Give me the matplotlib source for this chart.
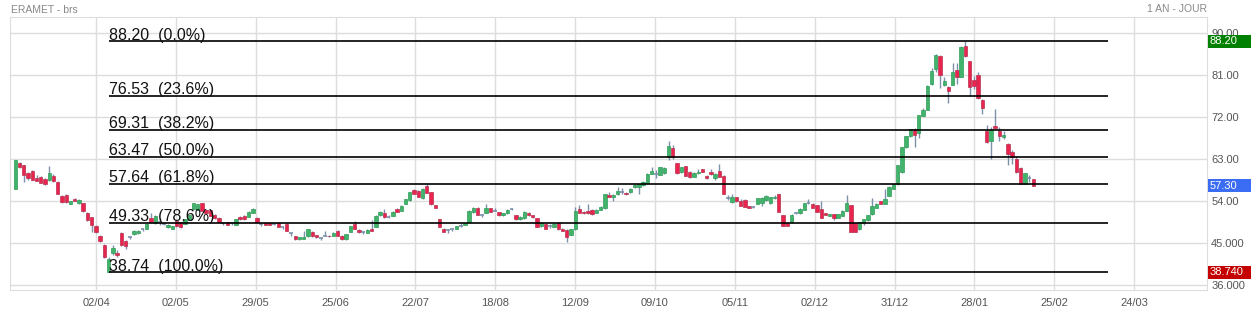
import matplotlib
matplotlib.use('Agg')
import matplotlib.pyplot as plt
import matplotlib.transforms as mtransforms
from matplotlib.patches import Rectangle

plt.rcParams['font.family'] = ['Liberation Sans', 'DejaVu Sans']

# daily candles (one row = 10 sessions)
opens = [
    56.5, 62.1, 61.7, 60.1, 60.5, 58.9, 59.2, 58.7, 58.4, 59.4,
    58.1, 55.1, 55.3, 53.4, 54.4, 53.5, 53.5, 51.5, 50.5, 48.6,
    46.5, 44.6, 38.74, 42.9, 42.8, 47.2, 45.5, 46.2, 46.9, 47.2,
    47.9, 48.1, 50.3, 49.2, 49.6, 49.1, 48.4, 48.1, 49.8, 49.4,
    49.1, 50.0, 52.2, 52.1, 53.5, 52.1, 52.1, 51.0, 50.4, 49.2,
    49.4, 49.2, 48.9, 50.6, 50.8, 50.6, 51.5, 50.4, 49.1, 49.2,
    49.2, 49.0, 49.2, 48.5, 49.1, 47.1, 46.4, 45.8, 45.9, 46.4,
    47.4, 46.7, 46.0, 46.5, 46.6, 46.6, 47.6, 46.6, 45.8, 47.4,
    49.1, 47.8, 47.3, 47.2, 47.9, 48.5, 50.9, 51.4, 50.6, 50.8,
    52.3, 51.9, 53.4, 54.2, 56.4, 56.1, 54.6, 57.3, 55.9, 53.1,
    50.1, 48.1, 47.8, 48.0, 48.0, 48.6, 48.9, 49.6, 51.6, 52.6,
    51.1, 51.5, 52.4, 51.9, 51.6, 50.9, 51.4, 52.2, 51.0, 50.1,
    50.3, 51.5, 51.0, 50.3, 48.6, 49.1, 48.6, 48.5, 49.2, 48.1,
    47.8, 46.8, 47.9, 52.3, 51.7, 51.9, 52.1, 51.5, 52.1, 52.4,
    55.3, 54.9, 55.4, 55.9, 55.8, 55.9, 56.9, 57.1, 57.4, 57.9,
    59.8, 59.7, 59.6, 59.9, 63.4, 65.3, 62.1, 60.3, 61.4, 60.3,
    59.2, 59.9, 60.8, 59.4, 60.3, 59.0, 60.5, 59.4, 54.6, 53.7,
    54.8, 54.1, 54.2, 52.9, 52.8, 53.4, 53.5, 54.2, 53.5, 54.6,
    55.5, 51.0, 49.2, 49.4, 51.4, 51.4, 52.1, 53.5, 53.4, 53.1,
    52.3, 51.4, 50.8, 51.2, 50.4, 50.8, 51.9, 53.1, 49.2, 47.9,
    49.2, 49.9, 51.2, 52.6, 53.9, 53.4, 55.1, 56.6, 57.6, 60.2,
    65.5, 67.9, 69.4, 68.6, 72.3, 73.5, 79.0, 82.2, 85.1, 78.9,
    78.5, 78.9, 82.1, 80.6, 87.2, 84.0, 79.9, 80.9, 75.6, 69.0,
    66.9, 70.1, 69.0, 67.8, 66.2, 64.6, 63.0, 61.0, 57.6, 59.0, 58.7,
]
highs = [
    62.8, 62.4, 61.8, 60.3, 60.7, 59.6, 59.4, 58.9, 61.6, 59.8,
    58.3, 55.3, 55.5, 54.0, 54.6, 54.4, 53.6, 51.6, 50.6, 48.8,
    46.7, 44.8, 41.9, 44.6, 43.6, 47.4, 45.7, 46.5, 47.7, 47.8,
    48.2, 49.2, 51.4, 50.9, 50.3, 49.4, 49.0, 48.7, 50.0, 49.6,
    50.2, 51.1, 53.6, 53.4, 53.6, 52.3, 52.2, 51.2, 50.5, 49.4,
    49.6, 49.4, 50.2, 50.8, 50.9, 51.8, 52.5, 50.6, 49.3, 49.3,
    49.3, 49.2, 49.3, 48.6, 49.2, 47.2, 46.5, 46.3, 47.6, 47.9,
    47.6, 46.8, 46.2, 47.6, 46.7, 47.3, 47.8, 46.7, 47.0, 48.7,
    49.8, 48.1, 47.5, 47.9, 49.9, 50.9, 51.8, 52.2, 50.9, 51.8,
    52.5, 53.1, 54.5, 56.0, 56.6, 56.3, 56.7, 57.7, 56.0, 53.2,
    50.2, 48.2, 48.0, 48.2, 48.7, 49.3, 49.3, 52.0, 52.7, 52.7,
    51.3, 53.3, 52.6, 52.4, 51.7, 51.5, 52.2, 52.5, 51.1, 50.7,
    51.8, 51.6, 51.1, 50.4, 49.3, 49.2, 49.0, 49.2, 49.4, 48.2,
    48.0, 48.0, 52.8, 53.2, 51.8, 53.3, 52.2, 52.2, 52.9, 55.5,
    55.9, 55.4, 56.9, 56.7, 55.9, 56.7, 57.6, 57.7, 58.2, 59.9,
    61.2, 60.6, 61.3, 61.2, 66.9, 66.0, 62.2, 61.3, 61.5, 60.4,
    60.2, 60.8, 60.9, 59.6, 60.8, 60.1, 61.9, 59.5, 55.2, 55.4,
    54.9, 54.5, 54.4, 53.0, 53.0, 54.7, 54.8, 55.2, 54.9, 55.3,
    55.6, 51.1, 49.3, 51.3, 51.6, 52.4, 53.6, 54.4, 53.5, 53.2,
    54.0, 51.5, 51.3, 51.3, 51.3, 52.0, 55.3, 53.2, 49.3, 49.5,
    50.2, 51.1, 54.6, 53.5, 54.0, 56.6, 57.2, 57.7, 61.8, 65.6,
    68.0, 69.5, 69.6, 72.5, 73.9, 78.9, 82.5, 85.4, 85.3, 80.6,
    78.7, 83.6, 83.5, 87.2, 88.2, 84.1, 80.8, 81.6, 75.8, 70.3,
    69.8, 73.7, 69.8, 69.0, 66.5, 64.9, 63.6, 61.2, 60.0, 59.5, 58.8,
]
lows = [
    56.5, 61.0, 58.1, 58.5, 58.4, 58.2, 57.8, 57.4, 58.3, 58.1,
    55.4, 53.5, 53.6, 53.3, 54.0, 53.4, 51.7, 49.8, 47.4, 47.2,
    45.3, 41.7, 38.74, 42.4, 42.0, 44.4, 43.7, 45.9, 46.8, 47.0,
    47.6, 48.0, 49.2, 49.0, 48.9, 48.8, 48.3, 48.0, 48.5, 48.3,
    49.0, 49.9, 52.1, 52.0, 51.8, 51.3, 50.7, 50.2, 49.5, 48.8,
    48.8, 48.9, 48.8, 50.0, 50.0, 50.5, 51.4, 49.3, 48.7, 48.8,
    48.8, 48.8, 48.4, 47.9, 47.5, 46.5, 45.7, 45.7, 45.8, 46.3,
    46.3, 46.1, 45.7, 46.4, 46.3, 46.5, 46.5, 45.7, 45.7, 47.3,
    48.0, 47.2, 47.0, 47.1, 47.5, 48.4, 50.8, 50.4, 50.3, 50.7,
    51.6, 51.8, 53.3, 54.1, 55.4, 54.8, 54.5, 55.7, 53.2, 52.5,
    48.4, 47.3, 47.2, 47.6, 47.9, 48.5, 48.8, 49.5, 51.5, 51.0,
    50.6, 51.4, 51.6, 51.8, 50.8, 50.8, 51.3, 52.0, 50.0, 50.0,
    50.2, 50.8, 50.4, 48.4, 48.5, 48.0, 48.3, 48.4, 47.8, 47.5,
    45.3, 46.7, 47.8, 51.4, 51.3, 51.2, 51.1, 51.4, 52.0, 52.3,
    54.8, 54.1, 55.3, 55.4, 55.3, 55.8, 56.8, 55.6, 57.3, 57.8,
    59.7, 58.9, 59.5, 59.8, 62.8, 62.9, 59.8, 60.0, 59.3, 59.0,
    59.1, 59.8, 60.2, 58.8, 59.6, 58.6, 59.1, 55.5, 54.3, 53.6,
    53.8, 52.9, 52.7, 52.5, 52.6, 53.3, 53.0, 54.1, 53.4, 54.5,
    51.6, 48.6, 48.6, 49.3, 51.2, 51.3, 52.0, 53.4, 52.5, 51.6,
    50.3, 50.9, 50.7, 50.0, 50.3, 50.7, 51.8, 47.3, 47.3, 47.8,
    48.8, 49.8, 51.1, 52.5, 53.3, 53.3, 55.0, 56.5, 57.5, 60.1,
    65.4, 67.8, 65.5, 67.5, 72.2, 73.4, 78.9, 81.7, 78.3, 78.6,
    74.9, 78.8, 79.0, 80.5, 84.9, 76.5, 78.0, 75.8, 72.6, 66.5,
    63.0, 69.6, 66.8, 67.2, 61.7, 61.9, 60.0, 57.6, 57.6, 58.1, 57.3,
]
closes = [
    62.8, 61.2, 59.6, 58.9, 58.6, 58.3, 57.9, 57.6, 60.1, 58.3,
    55.6, 53.7, 53.7, 53.9, 54.1, 54.2, 51.9, 49.9, 48.9, 47.4,
    45.5, 42.1, 41.5, 43.9, 42.4, 44.6, 44.4, 46.2, 47.6, 47.6,
    47.9, 49.1, 49.4, 50.8, 49.6, 49.1, 48.9, 48.6, 48.6, 48.5,
    50.1, 51.0, 53.5, 53.3, 51.9, 51.4, 50.8, 50.3, 49.6, 49.2,
    48.9, 49.2, 50.1, 50.1, 50.1, 51.7, 52.2, 49.4, 49.1, 48.9,
    48.9, 49.0, 48.5, 48.5, 47.6, 47.1, 45.8, 46.2, 46.3, 47.9,
    46.4, 46.2, 46.0, 46.5, 46.4, 47.2, 46.6, 45.8, 46.9, 48.6,
    48.1, 47.3, 47.3, 47.8, 47.6, 50.8, 51.7, 50.5, 50.6, 51.7,
    51.7, 53.0, 54.4, 55.9, 55.5, 54.9, 56.6, 55.8, 53.3, 52.6,
    48.5, 47.4, 47.8, 48.0, 48.6, 48.6, 49.2, 51.9, 52.6, 51.1,
    51.1, 52.4, 51.7, 51.9, 50.9, 51.4, 52.1, 52.2, 50.1, 50.6,
    51.7, 50.9, 50.5, 48.5, 49.2, 48.1, 48.6, 49.1, 47.9, 47.6,
    46.2, 47.9, 51.9, 51.5, 51.4, 51.5, 51.2, 52.1, 52.8, 55.4,
    54.9, 55.3, 56.1, 55.9, 55.4, 56.6, 57.4, 57.6, 58.1, 59.8,
    60.5, 59.7, 61.2, 61.0, 65.8, 63.4, 59.9, 61.2, 59.4, 59.1,
    60.1, 60.3, 60.3, 59.0, 59.7, 59.8, 59.2, 55.6, 54.6, 54.8,
    53.9, 53.0, 52.8, 52.6, 52.8, 54.6, 54.6, 55.1, 54.8, 54.9,
    51.7, 48.7, 48.7, 51.0, 51.4, 52.3, 53.5, 53.5, 52.6, 51.7,
    50.4, 51.0, 51.2, 50.4, 51.2, 51.9, 53.5, 47.4, 47.4, 49.4,
    50.1, 51.0, 52.9, 53.4, 53.4, 54.4, 57.1, 57.6, 61.7, 65.5,
    67.9, 69.4, 68.1, 72.4, 73.5, 78.6, 81.9, 85.3, 80.9, 79.7,
    77.6, 81.7, 80.6, 87.1, 85.1, 78.5, 78.7, 76.1, 73.9, 66.6,
    69.2, 69.7, 68.0, 68.1, 64.0, 63.5, 60.2, 57.6, 59.9, 59.0, 57.3,
]

date_labels = ['02/04', '02/05', '29/05', '25/06', '22/07', '18/08', '12/09',
               '09/10', '05/11', '02/12', '31/12', '28/01', '25/02', '24/03']
fib_values = [88.20, 76.53, 69.31, 63.47, 57.64, 49.33, 38.74]
fib_pcts = ['0.0%', '23.6%', '38.2%', '50.0%', '61.8%', '78.6%', '100.0%']
y_ticks = [36, 45, 54, 63, 72, 81, 90]
y_tick_labels = ['36.000', '45.000', '54.00', '63.00', '72.00', '81.00', '90.00']
high_price = 88.20
low_price = 38.74
last_price = 57.30

W, H = 1251, 311
fig = plt.figure(figsize=(W / 100, H / 100), dpi=100)
ax = fig.add_axes([10 / W, 21 / H, 1197 / W, 273 / H])

green, green_edge = '#41b36b', '#2f9c59'
red, red_edge = '#e8244f', '#b8324f'
wick = '#7d91aa'
grid_c = '#dddddd'

# candles
for i in range(len(closes)):
    o, h, l, c = opens[i], highs[i], lows[i], closes[i]
    ax.vlines(i, l, h, color=wick, lw=1, zorder=2)
    if o == c:
        ax.hlines(c, i - 0.45, i + 0.45, color=wick, lw=1.2, zorder=3)
    else:
        up = c > o
        ax.bar(i, abs(c - o), bottom=min(o, c), width=0.8,
               color=green if up else red,
               edgecolor=green_edge if up else red_edge, lw=0.5, zorder=3)

# fibonacci retracement
low_idx = lows.index(low_price)
for v, p in zip(fib_values, fib_pcts):
    ax.hlines(v, low_idx, 257.6, color='black', lw=1.2, zorder=4)
    ax.text(low_idx, v + 0.35, f'{v:.2f}  ({p})', fontsize=11.5,
            color='#111111', va='baseline', ha='left', zorder=5)

ax.set_xlim(-1.25, 280.95)
ax.set_ylim(34.93, 93.43)

tick_pos = [19.03 + 18.825 * k for k in range(len(date_labels))]
ax.set_xticks(tick_pos, date_labels)
ax.yaxis.tick_right()
ax.set_yticks(y_ticks, y_tick_labels)
ax.tick_params(axis='x', length=0, pad=6, labelsize=8, labelcolor='#555555')
ax.tick_params(axis='y', length=0, pad=3, labelsize=8, labelcolor='#555555')
ax.grid(True, color=grid_c, lw=1)
ax.set_axisbelow(True)
for s in ax.spines.values():
    s.set_color(grid_c)

# price boxes on the right axis
trans = mtransforms.blended_transform_factory(ax.transAxes, ax.transData)
box_h = 13 / 4.667
for v, txt, col in [(high_price, '88.20', '#008000'),
                    (last_price, '57.30', '#3a6cf4'),
                    (low_price, '38.740', '#c40000')]:
    ax.add_patch(Rectangle((1 + 1 / 1197, v - box_h / 2), 44 / 1197, box_h,
                           transform=trans, facecolor=col, edgecolor='none',
                           clip_on=False, zorder=6))
    ax.text(1 + 3 / 1197, v, txt, transform=trans, color='white', fontsize=8,
            va='center', ha='left', zorder=7, clip_on=False)

fig.text(11 / W, 1 - 10 / H, 'ERAMET - brs', fontsize=7.5, color='#888888',
         va='center', ha='left')
fig.text(1207 / W, 1 - 9 / H, '1 AN - JOUR', fontsize=7.5, color='#888888',
         va='center', ha='right')

fig.savefig('out.png', dpi=100)
